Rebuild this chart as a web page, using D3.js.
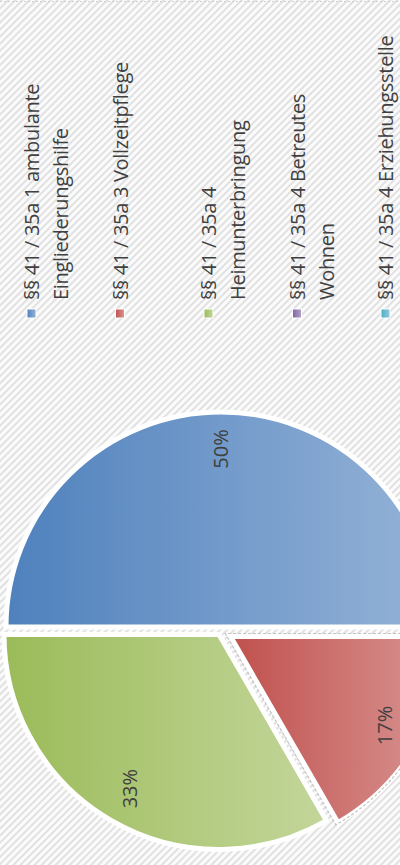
<!DOCTYPE html>
<html>
<head>
<meta charset="utf-8">
<script src="https://cdn.jsdelivr.net/npm/d3@7"></script>
<style>
  body { margin: 0; background: #fff; }
  svg { display: block; }
  text { font-family: "Open Sans", sans-serif; fill: #404040; }
</style>
</head>
<body>
<svg id="chart" width="400" height="865"></svg>
<script>
// legend entries (line breaks as in the picture)
const categories = [
  "§§ 41 / 35a 1 ambulante\nEingliederungshilfe",
  "§§ 41 / 35a 3 Vollzeitpflege",
  "§§ 41 / 35a 4\nHeimunterbringung",
  "§§ 41 / 35a 4 Betreutes\nWohnen",
  "§§ 41 / 35a 4 Erziehungsstelle"
];
// case counts -> 50% / 17% / 33% / 0 / 0
const counts = [3, 1, 2, 0, 0];

const colorsDark  = ["#4f81bd", "#c0504d", "#9bbb59", "#8064a2", "#4bacc6"];
const colorsLight = ["#95b3d7", "#d99694", "#c3d69b", "#b3a2c7", "#93cddd"];

function init() {
    const svg = d3.select("#chart");
    const W = 865; // width of the chart before it is turned on its side

    const defs = svg.append("defs");
    const hatch = defs.append("pattern")
      .attr("id", "hatch")
      .attr("width", 5).attr("height", 5)
      .attr("patternUnits", "userSpaceOnUse")
      .attr("patternTransform", "rotate(45)");
    hatch.append("rect").attr("width", 5).attr("height", 5).attr("fill", "#fbfbfb");
    hatch.append("rect").attr("width", 2).attr("height", 5).attr("fill", "#e1e1e1");

    colorsDark.forEach((c, i) => {
        const g = defs.append("linearGradient")
          .attr("id", "grad" + i)
          .attr("x1", 0).attr("y1", 0).attr("x2", 0).attr("y2", 1);
        g.append("stop").attr("offset", "0%").attr("stop-color", c);
        g.append("stop").attr("offset", "100%").attr("stop-color", colorsLight[i]);
    });

    svg.append("rect").attr("width", 400).attr("height", 865).attr("fill", "url(#hatch)");

    // whole chart is rotated by -90 degrees
    const chart = svg.append("g").attr("transform", `translate(0,${W}) rotate(-90)`);

    // chart border (right side in the unrotated chart)
    chart.append("line")
      .attr("x1", W - 1.5).attr("x2", W - 1.5)
      .attr("y1", 0).attr("y2", 400)
      .attr("stroke", "#cfcfcf")
      .attr("stroke-dasharray", "2,2");

    // pie
    const cx = 234, cy = 221, r = 215;
    const total = d3.sum(counts);
    const pie = d3.pie().sort(null).value(d => d);
    const arcs = pie(counts);
    const arc = d3.arc().innerRadius(0).outerRadius(r);
    const explode = i => i === 1 ? 11 : 4;
    const offset = (d, e) => {
        const a = (d.startAngle + d.endAngle) / 2;
        return [Math.sin(a) * e, -Math.cos(a) * e];
    };

    const pieG = chart.append("g").attr("transform", `translate(${cx},${cy})`);

    pieG.selectAll("path.slice")
      .data(arcs.filter(d => d.value > 0))
      .join("path")
      .attr("class", "slice")
      .attr("d", arc)
      .attr("transform", d => `translate(${offset(d, explode(d.index))})`)
      .attr("fill", d => `url(#grad${d.index})`)
      .attr("stroke", "#fff")
      .attr("stroke-width", 5)
      .attr("stroke-linejoin", "miter");

    // dashed selection outline around the pulled out slice
    const sel = arcs[1];
    pieG.append("path")
      .attr("d", d3.arc().innerRadius(0).outerRadius(r + 6)(sel))
      .attr("transform", `translate(${offset(sel, 5)})`)
      .attr("fill", "none")
      .attr("stroke", "#c4c4c4")
      .attr("stroke-width", 1.2)
      .attr("stroke-dasharray", "3,2");

    const labelR = 178;
    pieG.selectAll("text.pct")
      .data(arcs.filter(d => d.value > 0))
      .join("text")
      .attr("class", "pct")
      .attr("transform", d => {
          const o = offset(d, explode(d.index) + labelR);
          return `translate(${o})`;
      })
      .attr("text-anchor", "middle")
      .attr("dy", "0.36em")
      .style("font-size", "20px")
      .text(d => d3.format(".0%")(d.value / total));

    // legend
    const lx = 547, ly = 27, step = 88.5;
    const legend = chart.append("g");
    const items = legend.selectAll("g")
      .data(categories)
      .join("g")
      .attr("transform", (d, i) => `translate(${lx},${ly + i * step})`);

    items.append("rect")
      .attr("width", 9).attr("height", 9)
      .attr("fill", (d, i) => `url(#grad${i})`)
      .attr("stroke", "#fff")
      .attr("stroke-width", 1);

    items.append("text")
      .style("font-size", "20px")
      .style("letter-spacing", "-0.3px")
      .selectAll("tspan")
      .data(d => d.split("\n"))
      .join("tspan")
      .attr("x", 18)
      .attr("y", (d, j) => 12 + j * 29)
      .text(d => d);
}

init();
</script>
</body>
</html>
